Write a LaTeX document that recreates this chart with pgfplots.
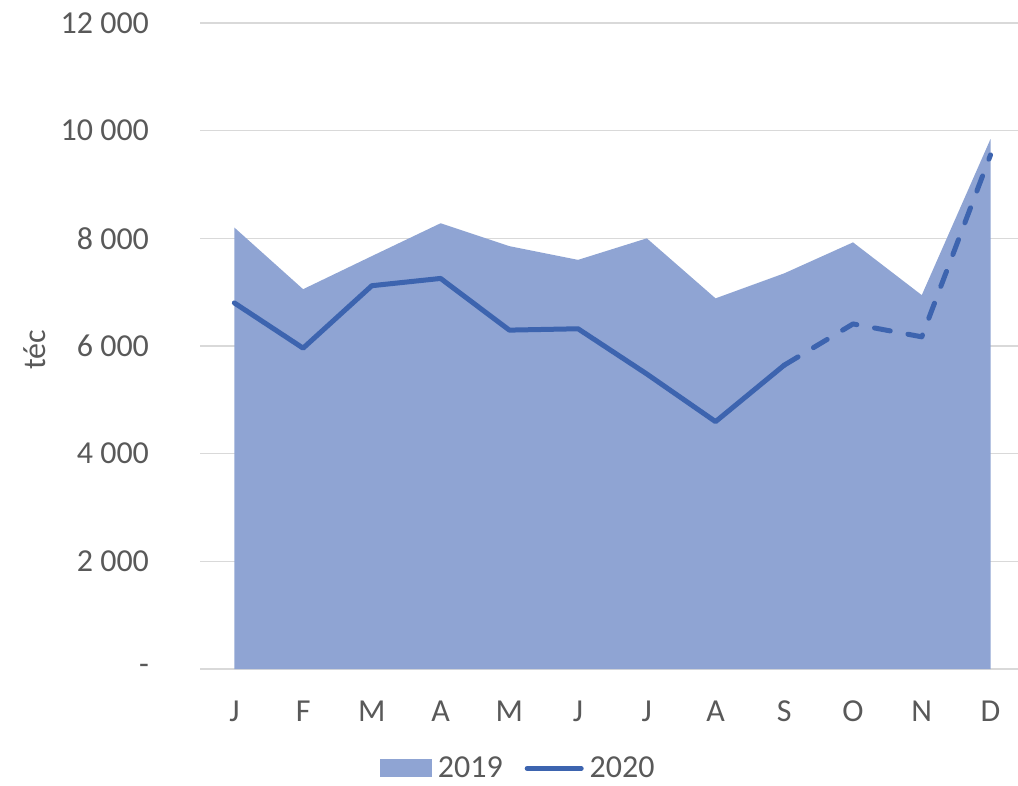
\documentclass[border=0pt]{standalone}
\usepackage{pgfplots}
\pgfplotsset{compat=1.18}
\usepackage{fontspec}
\setmainfont{Carlito}
\definecolor{areafill}{RGB}{143,164,211}
\definecolor{linecol}{RGB}{61,100,175}
\definecolor{txt}{RGB}{89,89,89}
\definecolor{gridc}{RGB}{217,217,217}

\begin{document}
\begin{tikzpicture}
\begin{axis}[
  scale only axis,
  width=409pt, height=323pt,
  xmin=-0.5, xmax=11.4,
  ymin=0, ymax=12000,
  scaled y ticks=false,
  xtick={0,...,11},
  xticklabels={J,F,M,A,M,J,J,A,S,O,N,D},
  ytick={0,2000,4000,6000,8000,10000,12000},
  yticklabels={-,2 000,4 000,6 000,8 000,10 000,12 000},
  ymajorgrids,
  major grid style={gridc, line width=0.75pt},
  axis line style={draw=none},
  major tick length=0pt,
  tick label style={font=\fontsize{16}{18}\selectfont, text=txt},
  yticklabel style={anchor=east, xshift=-22pt},
  xticklabel style={anchor=base, yshift=-26pt},
  legend style={at={(rel axis cs:0.389,-0.154)}, anchor=center, draw=none, fill=none,
    legend columns=2, font=\fontsize{16}{18}\selectfont, text=txt,
    /tikz/every odd column/.append style={column sep=2pt},
    /tikz/every even column/.append style={column sep=10pt},
    /tikz/every node/.append style={inner sep=1pt}},
  legend cell align=left,
  clip=false,
]
% 2019 (area)
\addplot[fill=areafill, draw=none,
  legend image code/.code={\fill[areafill] (0pt,-4.5pt) rectangle (26pt,4.5pt);}]
  coordinates {
    (0,8200) (1,7055) (2,7670) (3,8280) (4,7855) (5,7600)
    (6,8000) (7,6885) (8,7350) (9,7925) (10,6945) (11,9845)
  } \closedcycle;
\addlegendentry{2019}

% 2020 (line, solid Jan-Sep)
\addplot[linecol, line width=2.5pt, line cap=round, line join=round,
  legend image code/.code={\draw[linecol, line width=2.5pt, line cap=round] (0pt,0pt) -- (27pt,0pt);}]
  coordinates {
    (0,6800) (1,5960) (2,7120) (3,7255) (4,6295) (5,6320)
    (6,5480) (7,4595) (8,5645)
  };
\addlegendentry{2020}

% 2020 (dashed Sep-Dec)
\addplot[linecol, line width=2.5pt, line cap=round, line join=round,
  dash pattern=on 8pt off 9pt, forget plot]
  coordinates {
    (8,5645) (9,6410) (10,6170) (11,9550)
  };

\node[rotate=90, font=\fontsize{16}{18}\selectfont, text=txt] at (rel axis cs:-0.2017,0.494) {téc};
\coordinate (bl) at (rel axis cs:-0.2445,-0.1811);
\coordinate (tr) at (rel axis cs:1,1.0356);
\end{axis}
\pgfresetboundingbox
\path (bl) rectangle (tr);
\end{tikzpicture}
\end{document}
